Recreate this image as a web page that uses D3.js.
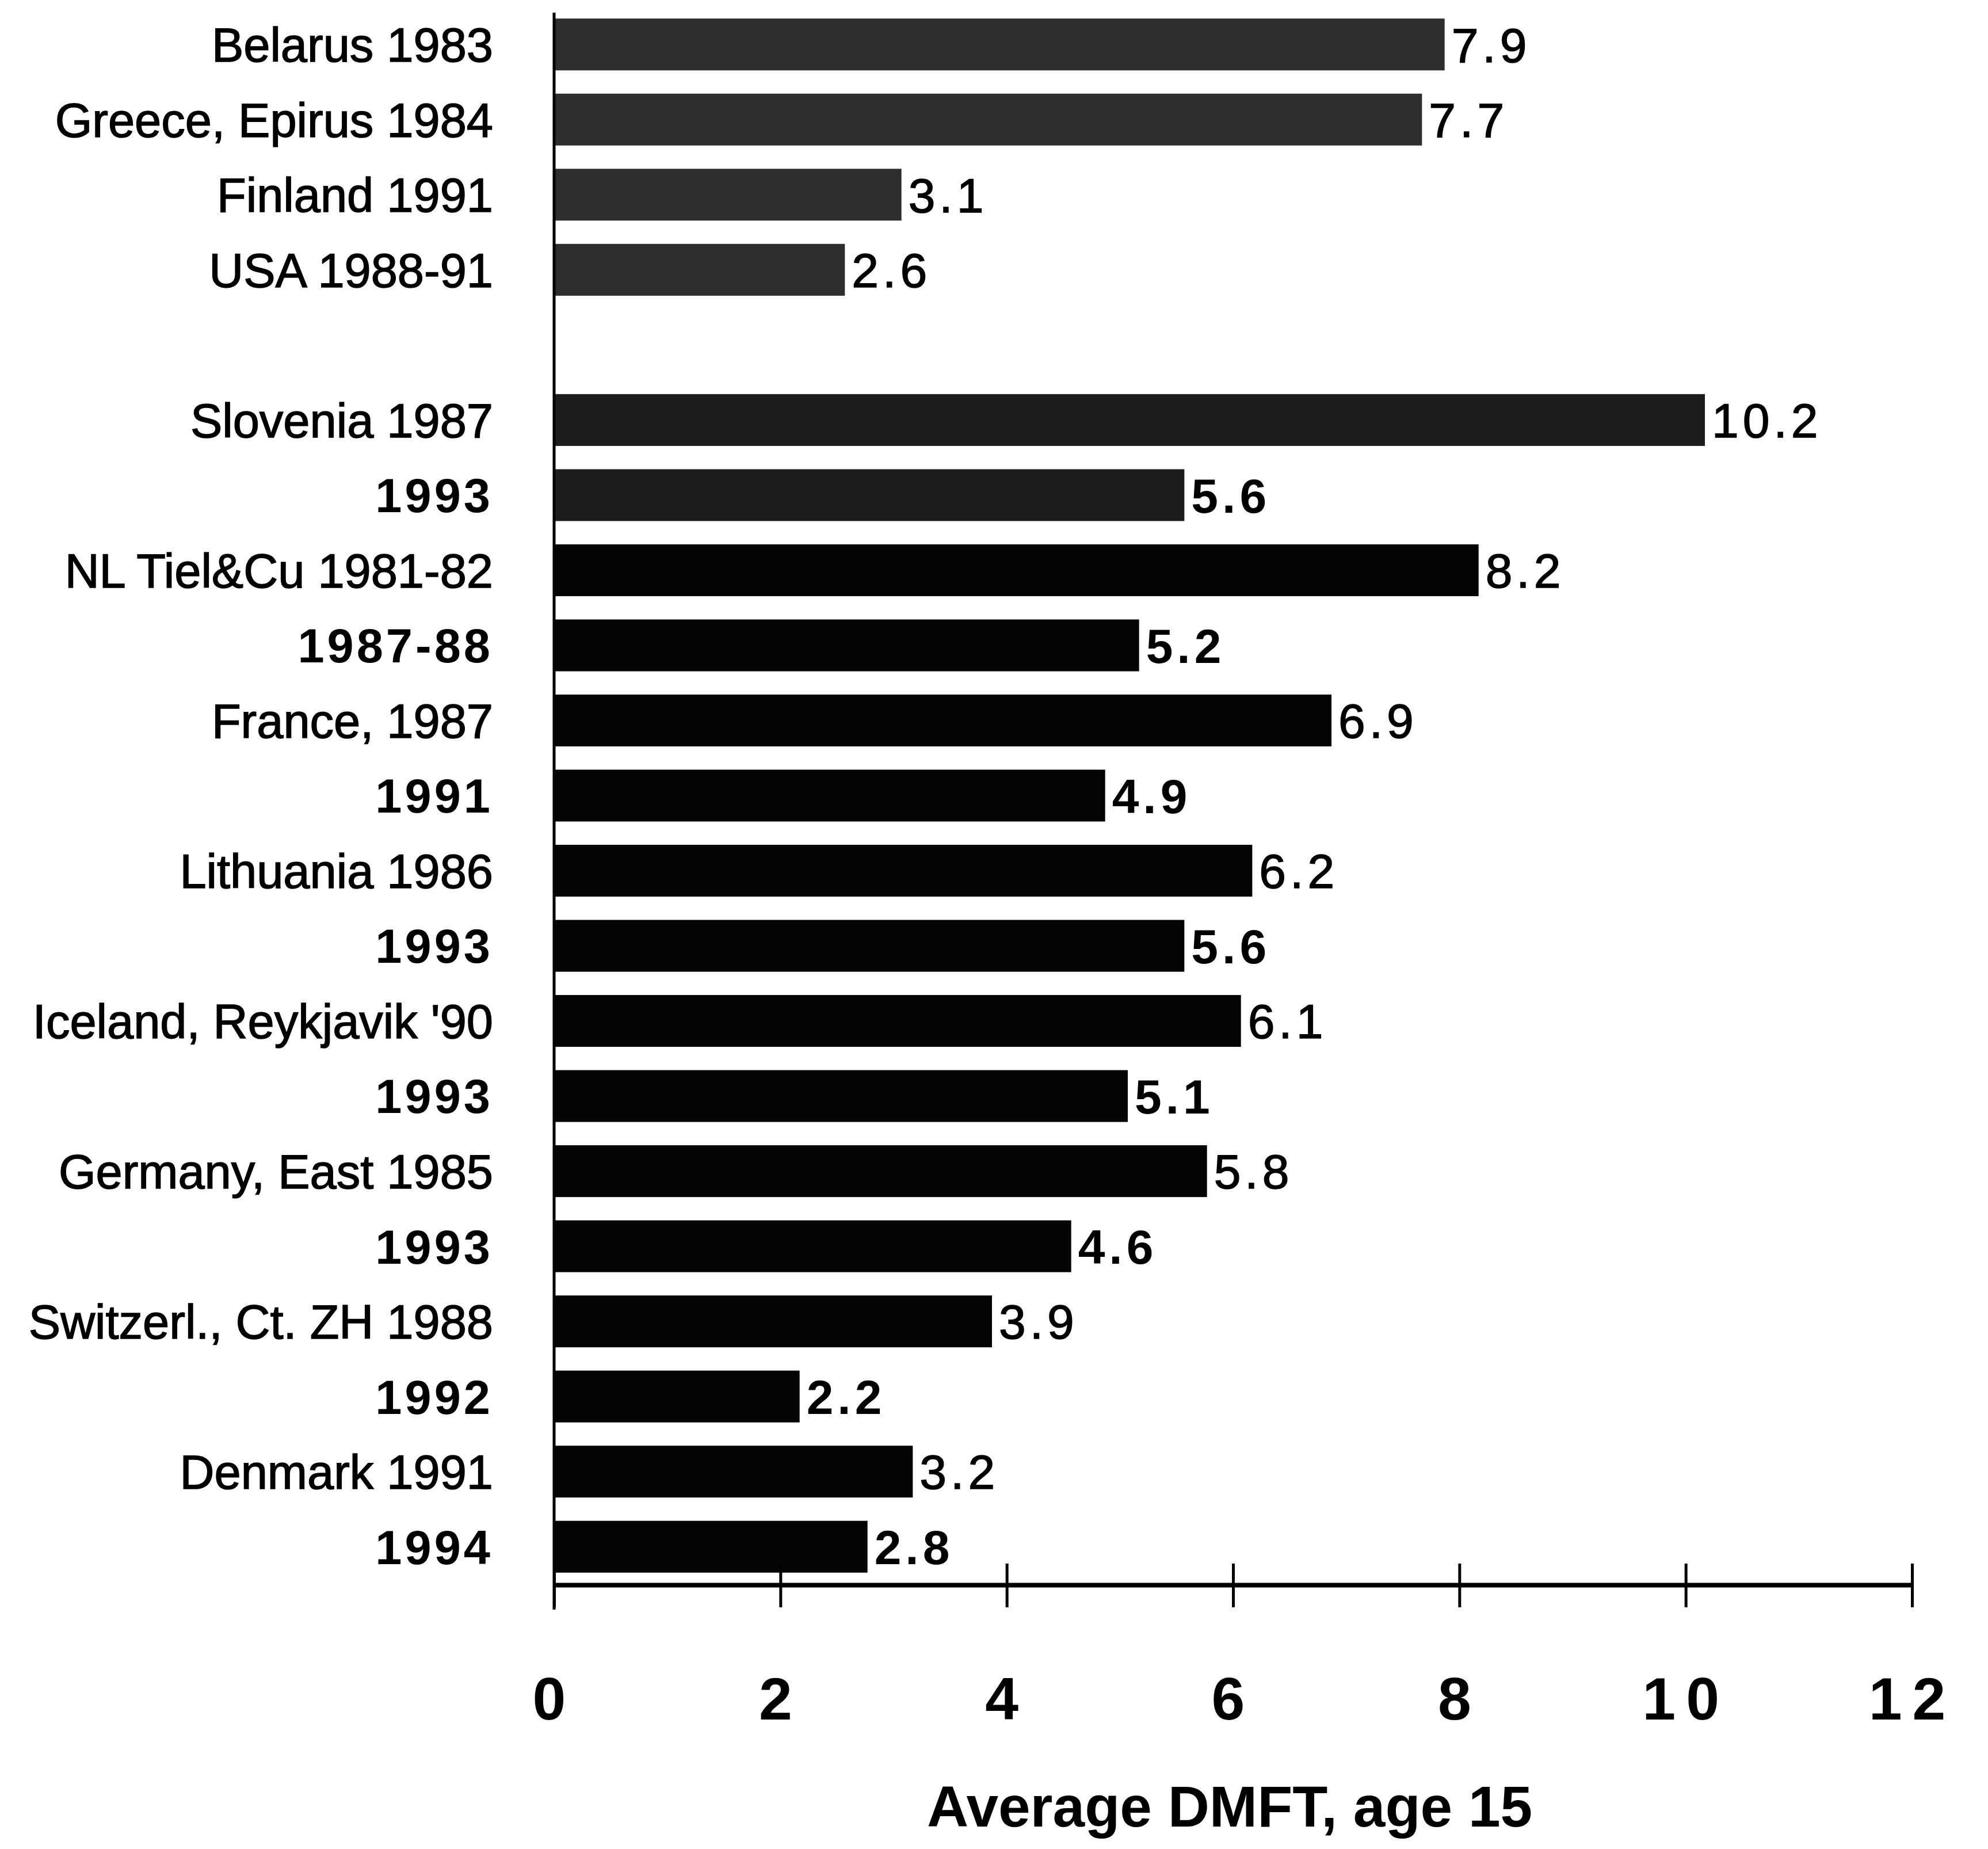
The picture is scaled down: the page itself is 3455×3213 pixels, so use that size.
<!DOCTYPE html>
<html>
<head>
<meta charset="utf-8">
<script src="https://cdn.jsdelivr.net/npm/d3@7"></script>
<style>
  body { margin: 0; background: #fff; }
  svg { display: block; font-family: "Liberation Sans", Arial, Helvetica, sans-serif; }
</style>
</head>
<body>
<svg id="chart" width="3455" height="3213"></svg>
<script>
// rows from top to bottom, "" marks the empty slot between the two groups
const labels = [
  "Belarus 1983", "Greece, Epirus 1984", "Finland 1991", "USA 1988-91", "",
  "Slovenia 1987", "1993", "NL Tiel&Cu 1981-82", "1987-88", "France, 1987", "1991",
  "Lithuania  1986", "1993", "Iceland, Reykjavik '90", "1993", "Germany, East 1985", "1993",
  "Switzerl., Ct. ZH 1988", "1992", "Denmark 1991", "1994"
];
const values = [7.9, 7.7, 3.1, 2.6, null,
  10.2, 5.6, 8.2, 5.2, 6.9, 4.9, 6.2, 5.6, 6.1, 5.1, 5.8, 4.6, 3.9, 2.2, 3.2, 2.8];
// 0 = single survey, 1 = first of a pair, 2 = later survey of a pair
const kinds = [0, 0, 0, 0, null, 1, 2, 1, 2, 1, 2, 1, 2, 1, 2, 1, 2, 1, 2, 1, 2];
const xTicks = [0, 2, 4, 6, 8, 10, 12];
const xTitle = "Average DMFT, age 15";

const svg = d3.select("#chart");

const rows = labels.map((l, i) => ({ id: "r" + i, label: l, value: values[i], kind: kinds[i], idx: i }));

const x = d3.scaleLinear().domain([0, 12]).range([963, 3323]);
const y = d3.scaleBand()
  .domain(rows.map(d => d.id))
  .range([12, 2753])
  .paddingInner(0.31)
  .paddingOuter(0.155);

// bar fill: scanned stipple for the first groups, solid black for the rest
function barFill(d) {
  if (d.idx < 4) return "#2e2e2e";
  if (d.idx < 7) return "#1d1d1d";
  return "#050505";
}

const bars = rows.filter(d => d.value !== null);

svg.append("g")
  .selectAll("rect")
  .data(bars)
  .join("rect")
  .attr("x", x(0))
  .attr("y", d => y(d.id))
  .attr("width", d => x(d.value) - x(0) - 6)
  .attr("height", y.bandwidth())
  .attr("fill", barFill);

// value labels at the bar ends
svg.append("g")
  .selectAll("text")
  .data(bars)
  .join("text")
  .attr("x", d => x(d.value) + 6)
  .attr("y", d => y(d.id) + y.bandwidth() / 2)
  .attr("dy", "0.36em")
  .attr("font-size", 84)
  .attr("letter-spacing", 7)
  .attr("font-weight", d => d.kind === 2 ? "bold" : "normal")
  .attr("fill", "#000")
  .attr("stroke", "#000")
  .attr("stroke-width", d => d.kind === 2 ? 0 : 1.5)
  .text(d => d.value.toFixed(1));

// category axis (labels only, line drawn separately)
const yAxis = svg.append("g")
  .attr("transform", `translate(${x(0)},0)`)
  .call(d3.axisLeft(y).tickSize(0).tickPadding(106).tickFormat((id, i) => labels[i]));
yAxis.select(".domain").remove();
yAxis.selectAll("text")
  .attr("font-size", 83)
  .attr("font-family", "Liberation Sans, Arial, sans-serif")
  .attr("fill", "#000")
  .attr("stroke", "#000")
  .attr("stroke-width", 1.5)
  .attr("dy", "0.36em")
  .each(function(id, i) {
    // year-only rows are set a bit heavier and spaced
    if (rows[i].kind === 2) {
      d3.select(this).attr("font-weight", "bold").attr("stroke-width", 0).attr("letter-spacing", 5);
    }
  });

// vertical axis line
svg.append("line")
  .attr("x1", x(0)).attr("x2", x(0))
  .attr("y1", 22).attr("y2", 2797)
  .attr("stroke", "#000")
  .attr("stroke-width", 5);

// value axis with ticks crossing the line
const axisY = 2754;
const xAxis = svg.append("g")
  .attr("transform", `translate(0,${axisY})`)
  .call(d3.axisBottom(x).tickValues(xTicks).tickSizeOuter(0).tickSizeInner(39).tickFormat(d3.format("d")));
xAxis.select(".domain")
  .attr("stroke", "#000")
  .attr("stroke-width", 8);
xAxis.selectAll(".tick line")
  .attr("y1", -37)
  .attr("stroke", "#000")
  .attr("stroke-width", 5);
xAxis.selectAll(".tick text")
  .attr("y", 2988 - axisY)
  .attr("dy", 0)
  .attr("font-size", 104)
  .attr("font-weight", "bold")
  .attr("letter-spacing", 18)
  .attr("font-family", "Liberation Sans, Arial, sans-serif")
  .attr("fill", "#000");

// axis title
svg.append("text")
  .attr("x", x(6) - 6)
  .attr("y", 3174)
  .attr("text-anchor", "middle")
  .attr("font-size", 100)
  .attr("font-weight", "bold")
  .attr("fill", "#000")
  .text(xTitle);
</script>
</body>
</html>
